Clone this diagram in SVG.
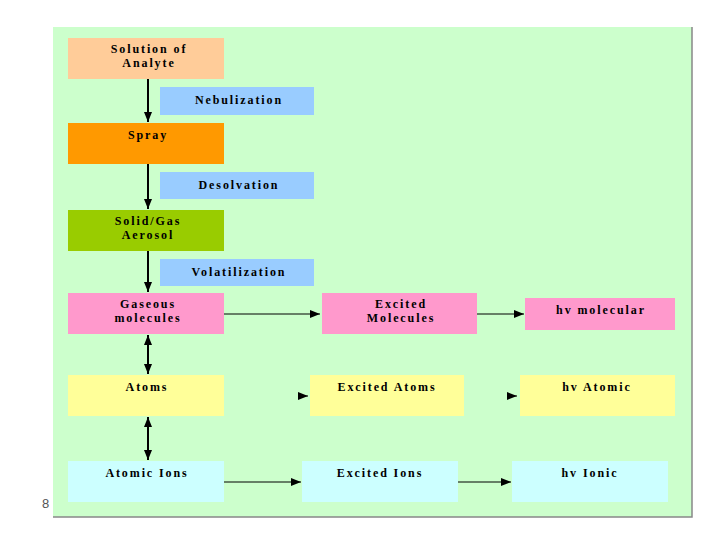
<svg xmlns="http://www.w3.org/2000/svg" width="720" height="540" viewBox="0 0 720 540">
<style>
text{font-family:"Liberation Serif","DejaVu Serif",serif;font-weight:bold;font-size:12px;fill:#000;text-anchor:middle;letter-spacing:1.9px}
.num{font-family:"Liberation Sans",Arial,sans-serif;font-weight:normal;font-size:13px;fill:#555;text-anchor:start;letter-spacing:0}
.v{stroke:#000;stroke-width:2;fill:none}
.h{stroke:#000;stroke-width:1;fill:none}
</style>
<defs>
<marker id="ah" viewBox="0 0 10 8" refX="10" refY="4" markerWidth="10" markerHeight="8" markerUnits="userSpaceOnUse" orient="auto-start-reverse"><path d="M0,0 L10,4 L0,8 Z" fill="#000"/></marker>
</defs>
<rect x="0" y="0" width="720" height="540" fill="#fff"/>
<g id="panel">
<rect x="53" y="27" width="639" height="490" fill="#CCFFCC"/>
<path d="M692,27 V517 H53" stroke="#888" stroke-width="1.5" fill="none"/>
</g>
<g id="solution"><rect x="68" y="38" width="156" height="41" fill="#FFCC99"/><text x="149" y="53">Solution of</text><text x="149" y="67">Analyte</text></g>
<g id="nebulization"><rect x="160" y="87" width="154" height="28" fill="#99CCFF"/><text x="239" y="104">Nebulization</text></g>
<g id="spray"><rect x="68" y="123" width="156" height="41" fill="#FF9900"/><text x="148" y="139">Spray</text></g>
<g id="desolvation"><rect x="160" y="172" width="154" height="27" fill="#99CCFF"/><text x="239" y="189">Desolvation</text></g>
<g id="aerosol"><rect x="68" y="210" width="156" height="41" fill="#99CC00"/><text x="148" y="225">Solid/Gas</text><text x="148" y="239">Aerosol</text></g>
<g id="volatilization"><rect x="160" y="259" width="154" height="27" fill="#99CCFF"/><text x="239" y="276">Volatilization</text></g>
<g id="gaseous"><rect x="68" y="293" width="156" height="41" fill="#FF99CC"/><text x="148" y="308">Gaseous</text><text x="148" y="322">molecules</text></g>
<g id="excited-molecules"><rect x="322" y="293" width="155" height="41" fill="#FF99CC"/><text x="401" y="308">Excited</text><text x="401" y="322">Molecules</text></g>
<g id="hv-molecular"><rect x="525" y="298" width="150" height="32" fill="#FF99CC"/><text x="601" y="314">hv molecular</text></g>
<g id="atoms"><rect x="68" y="375" width="156" height="41" fill="#FFFF99"/><text x="147" y="391">Atoms</text></g>
<g id="excited-atoms"><rect x="310" y="375" width="154" height="41" fill="#FFFF99"/><text x="387" y="391">Excited Atoms</text></g>
<g id="hv-atomic"><rect x="520" y="375" width="155" height="41" fill="#FFFF99"/><text x="597" y="391">hv Atomic</text></g>
<g id="atomic-ions"><rect x="68" y="461" width="156" height="41" fill="#CCFFFF"/><text x="147" y="477">Atomic Ions</text></g>
<g id="excited-ions"><rect x="302" y="461" width="156" height="41" fill="#CCFFFF"/><text x="380" y="477">Excited Ions</text></g>
<g id="hv-ionic"><rect x="512" y="461" width="156" height="41" fill="#CCFFFF"/><text x="590" y="477">hv Ionic</text></g>
<g id="connectors">
<line class="v" x1="148" y1="79" x2="148" y2="122" marker-end="url(#ah)"/>
<line class="v" x1="148" y1="164" x2="148" y2="209" marker-end="url(#ah)"/>
<line class="v" x1="148" y1="251" x2="148" y2="292" marker-end="url(#ah)"/>
<line class="v" x1="148" y1="335" x2="148" y2="374" marker-start="url(#ah)" marker-end="url(#ah)"/>
<line class="v" x1="148" y1="417" x2="148" y2="460" marker-start="url(#ah)" marker-end="url(#ah)"/>
<line class="h" x1="224" y1="314" x2="320" y2="314" marker-end="url(#ah)"/>
<line class="h" x1="477" y1="314" x2="524" y2="314" marker-end="url(#ah)"/>
<line class="h" x1="299" y1="396" x2="308" y2="396" marker-end="url(#ah)"/>
<line class="h" x1="508" y1="396" x2="517" y2="396" marker-end="url(#ah)"/>
<line class="h" x1="224" y1="482" x2="301" y2="482" marker-end="url(#ah)"/>
<line class="h" x1="458" y1="482" x2="511" y2="482" marker-end="url(#ah)"/>
</g>
<text class="num" x="42" y="508">8</text>
</svg>
